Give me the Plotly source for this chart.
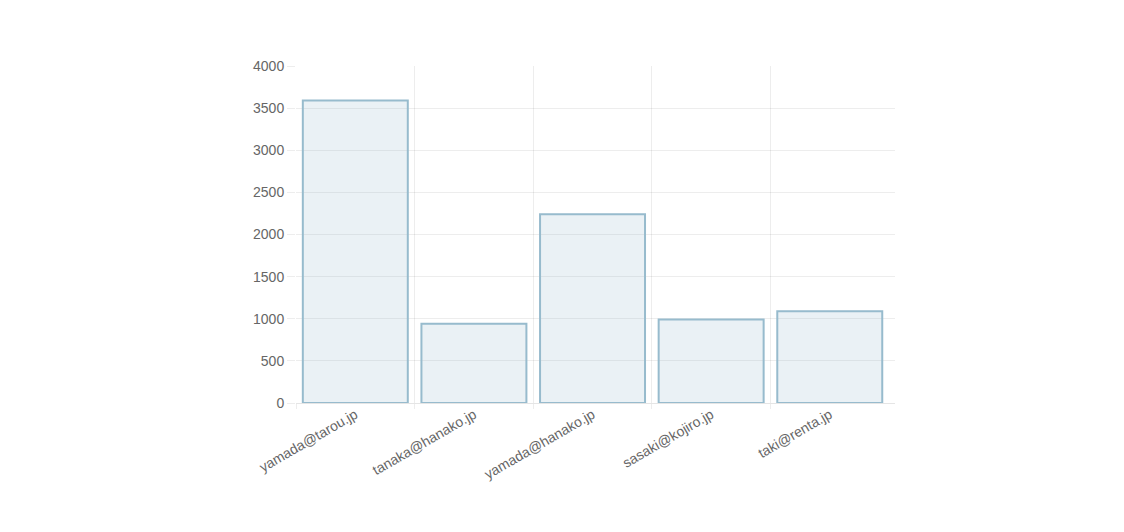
import plotly.graph_objects as go

categories = ["yamada@tarou.jp", "tanaka@hanako.jp", "yamada@hanako.jp", "sasaki@kojiro.jp", "taki@renta.jp"]
values = [3590, 940, 2240, 990, 1090]
y_ticks = [0, 500, 1000, 1500, 2000, 2500, 3000, 3500, 4000]

positions = list(range(len(categories)))
boundaries = [p - 0.5 for p in positions]
x_range = [-0.5, len(categories) - 0.45]

grid = "rgba(0,0,0,0.07)"
font = dict(family="Liberation Sans, Arial, Helvetica, sans-serif", size=14, color="#666666")

fig = go.Figure()
fig.add_trace(go.Bar(
    x=positions, y=values,
    marker=dict(color="rgba(151,187,205,0.2)", line=dict(color="rgba(151,187,205,1)", width=2)),
    width=0.885,
    hoverinfo="y",
))
# invisible trace for grid axis
fig.add_trace(go.Scatter(x=x_range, y=[0, 0], xaxis="x2", mode="markers",
                         marker=dict(opacity=0), hoverinfo="skip", showlegend=False))

fig.update_layout(
    width=1124, height=532,
    margin=dict(l=288, r=237, t=58, b=137),
    paper_bgcolor="white", plot_bgcolor="white",
    showlegend=False,
    font=font,
    xaxis=dict(
        range=x_range,
        tickmode="array", tickvals=positions, ticktext=categories,
        tickangle=-30, showgrid=False, zeroline=False, ticks="",
        tickfont=font, showline=False,
    ),
    xaxis2=dict(
        overlaying="x", side="bottom", range=x_range,
        tickmode="array", tickvals=boundaries, ticktext=[""] * len(boundaries),
        showgrid=True, gridcolor=grid, gridwidth=1,
        ticks="outside", ticklen=5, tickcolor=grid, showticklabels=False,
        zeroline=False, showline=False,
    ),
    yaxis=dict(
        range=[0, 4000], tickmode="array", tickvals=y_ticks,
        showgrid=True, gridcolor=grid, gridwidth=1,
        ticks="outside", ticklen=8, tickcolor=grid,
        zeroline=True, zerolinecolor="rgba(0,0,0,0.1)", zerolinewidth=1,
        showline=False, tickfont=font,
    ),
)

fig.write_html("out.html")
